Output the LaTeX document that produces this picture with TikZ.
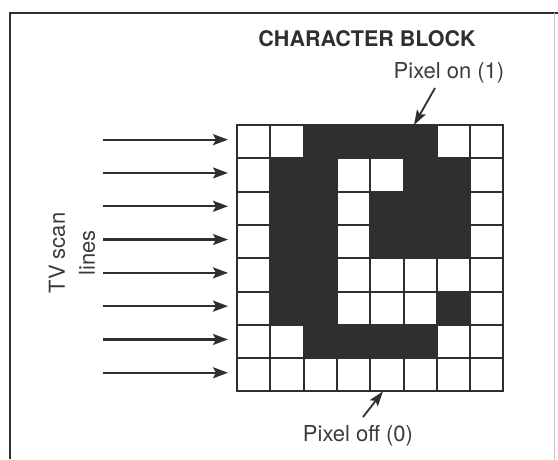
\documentclass[tikz,border=0pt]{standalone}
\usepackage{fontspec}
\setmainfont{TeX Gyre Heros}
\usetikzlibrary{arrows.meta}
\definecolor{ink}{HTML}{2F2F2F}
\definecolor{txt}{HTML}{3C3C3C}
\begin{document}
\begin{tikzpicture}[x=1pt,y=-1pt,
  px0/.style={draw=ink, fill=white, line width=2pt, minimum size=33.3pt, inner sep=0pt, outer sep=0pt},
  px1/.style={draw=ink, fill=ink, line width=2pt, minimum size=33.3pt, inner sep=0pt, outer sep=0pt},
  scan/.style={draw=ink, line width=2.2pt, shorten >=9pt, -{Stealth[length=15pt,width=11pt,inset=3pt]}},
  callout/.style={draw=ink, line width=1.8pt, -{Stealth[length=15pt,width=10pt,inset=3pt]}},
  lbl/.style={font=\fontsize{22}{30}\selectfont, text=txt, inner sep=0pt},
  ttl/.style={font=\fontsize{21.5}{26}\selectfont\bfseries, text=ink, inner sep=0pt},
]
\useasboundingbox (0,0) rectangle (558,459);
% frame
\draw[ink, line width=2pt] (10,459) -- (10,12.5) -- (558,12.5);
\draw[gray!45, line width=1pt] (554,12.5) -- (554,459);
% character block
\foreach \row [count=\r from 0] in {{0,0,1,1,1,1,0,0},{0,1,1,0,0,1,1,0},{0,1,1,0,1,1,1,0},{0,1,1,0,1,1,1,0},{0,1,1,0,0,0,0,0},{0,1,1,0,0,0,1,0},{0,0,1,1,1,1,0,0},{0,0,0,0,0,0,0,0}} {
  \foreach \v [count=\c from 0] in \row {
    \node[px\v] (c\r-\c) at ({237+33.3*(\c+0.5)}, {125+33.3*(\r+0.5)}) {};
  }
}
% scan lines
\foreach \r in {0,...,7} {
  \coordinate (s\r) at (103, {125+33.3*(\r+0.5)-2});
  \draw[scan] (s\r) -- (c\r-0.west |- s\r);
}
% labels
\node[ttl, anchor=base] (title) at (367,46.7) {CHARACTER BLOCK};
\node[lbl, anchor=base] (onlbl) at (449,78) {Pixel on (1)};
\node[lbl, anchor=base] (offlbl) at (358,441.7) {Pixel off (0)};
\node[lbl, rotate=90, align=center] (tv) at (72,253) {TV scan\\lines};
% callouts
\coordinate (ontail) at (435,88);
\coordinate (ontip) at (c0-5.north -| 414,0);
\draw[callout] (ontail) -- (ontip);
\coordinate (offtail) at (363,417);
\coordinate (offtip) at (c7-4.south -| 383,0);
\draw[callout] (offtail) -- (offtip);
\end{tikzpicture}
\end{document}
